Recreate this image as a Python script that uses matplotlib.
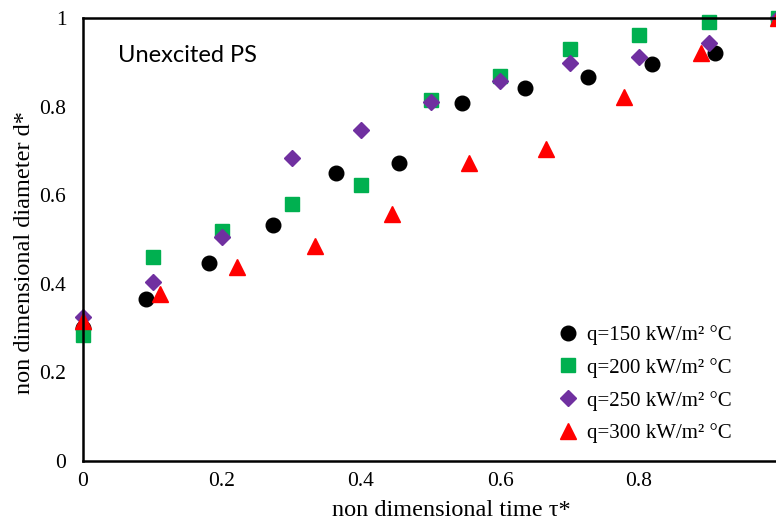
import matplotlib.pyplot as plt
import numpy as np

plt.rcParams['font.family'] = ['Liberation Serif', 'DejaVu Serif']

# data
tau_150 = np.arange(12) / 11
d_150 = [0.30, 0.365, 0.446, 0.532, 0.651, 0.673, 0.807, 0.843, 0.866, 0.896, 0.922, 1.0]

tau_200 = np.arange(11) / 10
d_200 = [0.284, 0.460, 0.520, 0.580, 0.624, 0.815, 0.868, 0.930, 0.961, 0.991, 1.0]

tau_250 = np.arange(11) / 10
d_250 = [0.326, 0.404, 0.505, 0.685, 0.748, 0.810, 0.858, 0.898, 0.912, 0.943, 1.0]

tau_300 = np.arange(10) / 9
d_300 = [0.316, 0.376, 0.439, 0.486, 0.557, 0.673, 0.705, 0.821, 0.921, 1.0]

labels = ["q=150 kW/m² °C", "q=200 kW/m² °C", "q=250 kW/m² °C", "q=300 kW/m² °C"]

W, H = 776, 524
fig = plt.figure(figsize=(W / 100, H / 100), dpi=100)
ax = fig.add_axes([83 / W, (H - 461) / H, 695 / W, 443 / H])

ax.plot(tau_150, d_150, 'o', color='black', ms=10.5, label=labels[0], clip_on=False)
ax.plot(tau_200, d_200, 's', color='#00B050', ms=10, label=labels[1], clip_on=False)
ax.plot(tau_250, d_250, 'D', color='#7030A0', ms=8.6, label=labels[2], clip_on=False)
ax.plot(tau_300, d_300, '^', color='#FF0000', ms=11, label=labels[3], clip_on=False)

ax.set_xlim(0, 1)
ax.set_ylim(0, 1)
ax.set_xticks([0, 0.2, 0.4, 0.6, 0.8])
ax.set_xticklabels(['0', '0.2', '0.4', '0.6', '0.8'])
ax.set_yticks([0, 0.2, 0.4, 0.6, 0.8, 1])
ax.set_yticklabels(['0', '0.2', '0.4', '0.6', '0.8', '1'])
ax.tick_params(length=0, labelsize=15.5)
ax.tick_params(axis='x', pad=8)
ax.tick_params(axis='y', pad=12)
for s in ['left', 'bottom', 'top']:
    ax.spines[s].set_linewidth(1.8)
ax.spines['right'].set_visible(False)

ax.set_xlabel("non dimensional time τ*", fontsize=17.5)
ax.set_ylabel("non dimensional diameter d*", fontsize=17.5)
ax.xaxis.set_label_coords(0.53, -50 / 443, transform=ax.transAxes)
ax.yaxis.set_label_coords(-58 / 695, 0.47, transform=ax.transAxes)
ax.xaxis.label.set_va('center')
ax.yaxis.label.set_va('center')

ax.text(118 / W, 1 - 55 / H, "Unexcited PS", transform=fig.transFigure,
        fontsize=17, family=['Lato', 'DejaVu Sans'], va='center', ha='left')

ax.legend(loc='upper left', bbox_to_anchor=(558 / W, 1 - 325 / H),
          bbox_transform=fig.transFigure, frameon=False, fontsize=15,
          numpoints=1, handlelength=1.0, handletextpad=0.4,
          labelspacing=0.62, borderpad=0, borderaxespad=0)

fig.savefig('out.png', dpi=100)
